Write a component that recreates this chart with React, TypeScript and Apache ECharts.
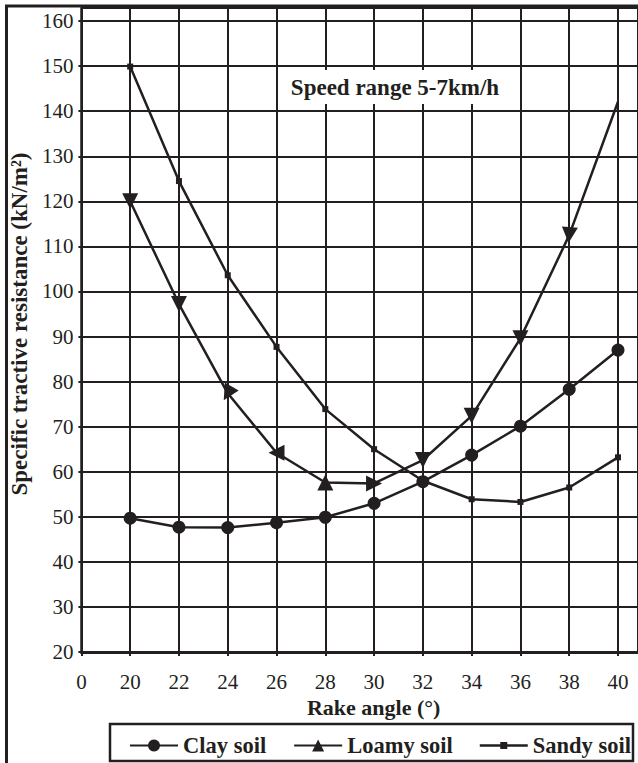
import React, { useEffect, useRef } from 'react';
import * as echarts from 'echarts';

const tickLabels = ['0', '20', '22', '24', '26', '28', '30', '32', '34', '36', '38', '40'];
const rakeAngles = [20, 22, 24, 26, 28, 30, 32, 34, 36, 38, 40];
const claySoil = [49.7, 47.7, 47.6, 48.7, 49.9, 53.0, 57.8, 63.7, 70.1, 78.3, 87.0];
const loamySoil = [120.0, 97.2, 77.4, 64.2, 57.6, 57.4, 62.6, 72.4, 89.6, 112.5, 142.1];
const sandySoil = [149.9, 124.5, 103.6, 87.7, 73.9, 65.0, 58.0, 53.9, 53.3, 56.5, 63.2];
const seriesNames = ['Clay soil', 'Loamy soil', 'Sandy soil'];
const noteText = 'Speed range 5-7km/h';
const xTitle = 'Rake angle (°)';
const yTitle = 'Specific tractive resistance (kN/m²)';

const INK = '#231f20';
const FONT = '"Liberation Serif", "Times New Roman", serif';

export default function App() {
  const ref = useRef<HTMLDivElement>(null);

  useEffect(() => {
    if (!ref.current) return;
    const chart = echarts.init(ref.current, undefined, { renderer: 'svg' });
    const pos = (a: number) => tickLabels.indexOf(String(a));
    const loamyTurn = [180, 180, 150, 90, 0, -90, 180, 180, 180, 175, 0];
    // legend icon: line with a small square in the middle (48 x 15 box)
    const sandyIcon = 'path://M0,0H0.01V15H0Z M0,6.3H48V8.7H0Z M20.5,4H27.5V11H20.5Z M47.99,0H48V15H47.99Z';

    const option: any = {
      animation: false,
      backgroundColor: '#ffffff',
      textStyle: { fontFamily: FONT, color: INK },
      grid: { left: 78, right: 0, top: 8, bottom: 111, containLabel: false },
      xAxis: {
        type: 'value',
        min: 0,
        max: 11.41,
        interval: 1,
        name: xTitle,
        nameLocation: 'middle',
        nameGap: 43,
        nameTextStyle: {
          fontFamily: FONT, fontWeight: 'bold', fontSize: 22, color: INK,
          padding: [0, 0, 0, 28],
        },
        axisLine: { show: true, onZero: false, lineStyle: { color: INK, width: 3 } },
        axisTick: { show: true, length: 4, lineStyle: { color: INK, width: 2 } },
        axisLabel: {
          fontFamily: FONT, fontSize: 21, color: INK, margin: 19,
          showMaxLabel: false,
          formatter: (v: number) => (Number.isInteger(v) && tickLabels[v] !== undefined ? tickLabels[v] : ''),
        },
        splitLine: { show: true, lineStyle: { color: INK, width: 2 } },
      },
      yAxis: {
        type: 'value',
        min: 20,
        max: 162.9,
        interval: 10,
        name: yTitle,
        nameLocation: 'middle',
        nameGap: 46,
        nameTextStyle: {
          fontFamily: FONT, fontWeight: 'bold', fontSize: 23, color: INK,
          padding: [0, 0, 0, 12],
        },
        axisLine: { show: true, lineStyle: { color: INK, width: 2.5 } },
        axisTick: { show: true, length: 3, lineStyle: { color: INK, width: 2 } },
        axisLabel: {
          fontFamily: FONT, fontSize: 21, color: INK, margin: 8,
          showMaxLabel: false,
          formatter: (v: number) => (v % 10 === 0 ? String(v) : ''),
        },
        splitLine: { show: true, lineStyle: { color: INK, width: 2 } },
      },
      legend: {
        show: true,
        left: 124,
        top: 729,
        itemWidth: 48,
        itemHeight: 15,
        itemGap: 27,
        textStyle: { fontFamily: FONT, fontWeight: 'bold', fontSize: 22.5, color: INK },
        data: [
          { name: seriesNames[0] },
          { name: seriesNames[1] },
          { name: seriesNames[2], icon: sandyIcon, itemStyle: { color: INK } },
        ],
      },
      series: [
        {
          name: seriesNames[0],
          type: 'line',
          data: rakeAngles.map((a, i) => [pos(a), claySoil[i]]),
          symbol: 'circle',
          symbolSize: 13,
          lineStyle: { color: INK, width: 2.5 },
          itemStyle: { color: INK },
          z: 5,
        },
        {
          name: seriesNames[1],
          type: 'line',
          data: rakeAngles.map((a, i) => ({
            value: [pos(a), loamySoil[i]],
            symbolRotate: loamyTurn[i],
            symbol: i === rakeAngles.length - 1 ? 'none' : 'triangle',
          })),
          symbol: 'triangle',
          symbolRotate: 0,
          symbolSize: 16,
          lineStyle: { color: INK, width: 2.5 },
          itemStyle: { color: INK },
          z: 5,
        },
        {
          name: seriesNames[2],
          type: 'line',
          data: rakeAngles.map((a, i) => [pos(a), sandySoil[i]]),
          symbol: 'rect',
          symbolSize: 6,
          lineStyle: { color: INK, width: 2.5 },
          itemStyle: { color: INK },
          z: 5,
        },
      ],
      graphic: [
        {
          type: 'rect',
          silent: true,
          shape: { x: 284, y: 70, width: 222, height: 34 },
          style: { fill: '#ffffff' },
          z: 10,
        },
        {
          type: 'text',
          silent: true,
          x: 395,
          y: 87,
          style: {
            text: noteText,
            fontFamily: FONT,
            fontWeight: 'bold',
            fontSize: 23,
            fill: INK,
            align: 'center',
            verticalAlign: 'middle',
          },
          z: 11,
        },
        {
          type: 'rect',
          silent: true,
          shape: { x: 110, y: 724, width: 523, height: 37 },
          style: { fill: 'none', stroke: INK, lineWidth: 2.5 },
          z: 10,
        },
        {
          type: 'rect',
          silent: true,
          shape: { x: 6.5, y: 6, width: 800, height: 900 },
          style: { fill: 'none', stroke: INK, lineWidth: 3 },
          z: 12,
        },
      ],
    };
    chart.setOption(option);
    return () => chart.dispose();
  }, []);

  return (
    <div
      ref={ref}
      style={{ position: 'absolute', left: 0, top: 0, width: 638, height: 763, background: '#fff' }}
    />
  );
}
